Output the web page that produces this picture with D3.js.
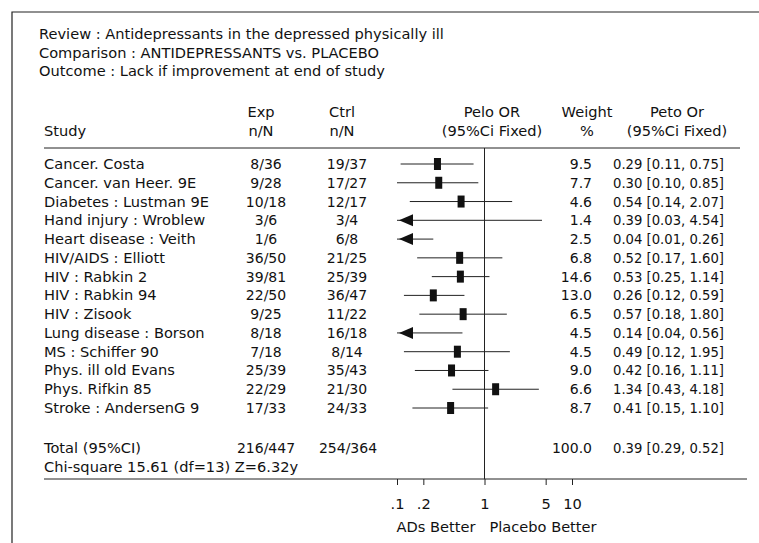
<!DOCTYPE html>
<meta charset="utf-8">
<style>
body{margin:0;background:#fff;}
svg text{font-family:"DejaVu Sans",sans-serif;font-size:14.6px;fill:#111;}
svg text.num{font-size:14px;}
svg text.ci{font-size:13.2px;}
</style>
<svg id="chart" width="759" height="543"></svg>
<script src="https://d3js.org/d3.v7.min.js"></script>
<script>
// header text of the review
const HEADER = [
  'Review : Antidepressants in the depressed physically ill',
  'Comparison : ANTIDEPRESSANTS vs. PLACEBO',
  'Outcome : Lack if improvement at end of study'
]

// one entry per trial
const STUDIES = ['Cancer. Costa', 'Cancer. van Heer. 9E', 'Diabetes : Lustman 9E',
  'Hand injury : Wroblew', 'Heart disease : Veith', 'HIV/AIDS : Elliott',
  'HIV : Rabkin 2', 'HIV : Rabkin 94', 'HIV : Zisook', 'Lung disease : Borson',
  'MS : Schiffer 90', 'Phys. ill old Evans', 'Phys. Rifkin 85', 'Stroke : AndersenG 9']
const EXP = ['8/36', '9/28', '10/18', '3/6', '1/6', '36/50', '39/81', '22/50',
  '9/25', '8/18', '7/18', '25/39', '22/29', '17/33']
const CTRL = ['19/37', '17/27', '12/17', '3/4', '6/8', '21/25', '25/39', '36/47',
  '11/22', '16/18', '8/14', '35/43', '21/30', '24/33']
const WEIGHT = [9.5, 7.7, 4.6, 1.4, 2.5, 6.8, 14.6, 13.0, 6.5, 4.5, 4.5, 9.0, 6.6, 8.7]
const OR = [0.29, 0.30, 0.54, 0.39, 0.04, 0.52, 0.53, 0.26, 0.57, 0.14, 0.49, 0.42, 1.34, 0.41]
const LO = [0.11, 0.10, 0.14, 0.03, 0.01, 0.17, 0.25, 0.12, 0.18, 0.04, 0.12, 0.16, 0.43, 0.15]
const HI = [0.75, 0.85, 2.07, 4.54, 0.26, 1.60, 1.14, 0.59, 1.80, 0.56, 1.95, 1.11, 4.18, 1.10]

// pooled result
const TOTAL = {exp: '216/447', ctrl: '254/364', weight: 100.0, or: 0.39, lo: 0.29, hi: 0.52}
const CHI = 'Chi-square 15.61 (df=13) Z=6.32y'

const TICKS = [0.1, 0.2, 1, 5, 10]
const TICK_LABELS = ['.1', '.2', '1', '5', '10']

const svg = d3.select('#chart')
const f2 = d3.format('.2f')
const f1 = d3.format('.1f')
const ciText = (o, l, h) => `${f2(o)} [${f2(l)}, ${f2(h)}]`

// frame (only top and left edges show)
svg.append('path').attr('d', 'M12,543V12H759')
  .attr('fill', 'none').attr('stroke', '#222').attr('stroke-width', 1.2)

svg.selectAll('text.head').data(HEADER).enter().append('text')
  .attr('class', 'head')
  .attr('x', 39).attr('y', (d, i) => 39 + i * 18.5)
  .text(d => d)

// column headings
const cols = [
  {x: 44, a: 'start', t: ['', 'Study']},
  {x: 261, a: 'middle', t: ['Exp', 'n/N']},
  {x: 342, a: 'middle', t: ['Ctrl', 'n/N']},
  {x: 492, a: 'middle', t: ['Pelo OR', '(95%Ci Fixed)']},
  {x: 587, a: 'middle', t: ['Weight', '%']},
  {x: 677, a: 'middle', t: ['Peto Or', '(95%Ci Fixed)']}
]
cols.forEach(c => {
  c.t.forEach((t, i) => {
    svg.append('text').attr('x', c.x).attr('y', 117 + i * 19)
      .attr('text-anchor', c.a).text(t)
  })
})

svg.append('line').attr('x1', 44).attr('x2', 740).attr('y1', 148).attr('y2', 148)
  .attr('stroke', '#222')

const x = d3.scaleLog().domain([0.1, 10]).range([397, 572])
const rowY = i => 164 + i * 18.77
const totalY = 448

const rows = svg.selectAll('g.row').data(STUDIES).enter().append('g').attr('class', 'row')
rows.append('text').attr('x', 44).attr('y', (d, i) => rowY(i) + 5).text(d => d)
rows.append('text').attr('class', 'num').attr('x', 266).attr('y', (d, i) => rowY(i) + 5)
  .attr('text-anchor', 'middle').text((d, i) => EXP[i])
rows.append('text').attr('class', 'num').attr('x', 347).attr('y', (d, i) => rowY(i) + 5)
  .attr('text-anchor', 'middle').text((d, i) => CTRL[i])
rows.append('text').attr('class', 'num').attr('x', 592).attr('y', (d, i) => rowY(i) + 5)
  .attr('text-anchor', 'end').text((d, i) => f1(WEIGHT[i]))
rows.append('text').attr('class', 'ci').attr('x', 613).attr('y', (d, i) => rowY(i) + 5)
  .text((d, i) => ciText(OR[i], LO[i], HI[i]))

// confidence intervals, clipped to the axis range with an arrow
const lo = x.domain()[0]
rows.append('line')
  .attr('x1', (d, i) => x(Math.max(LO[i], lo))).attr('x2', (d, i) => x(HI[i]))
  .attr('y1', (d, i) => rowY(i)).attr('y2', (d, i) => rowY(i))
  .attr('stroke', '#222')
rows.filter((d, i) => LO[i] < lo).append('path')
  .attr('d', d => {
    const x0 = x(lo) + 2, y0 = rowY(STUDIES.indexOf(d))
    return `M${x0},${y0}L${x0 + 14},${y0 - 6}L${x0 + 14},${y0 + 6}Z`
  })
  .attr('fill', '#111')
rows.filter((d, i) => LO[i] >= lo).append('rect')
  .attr('x', d => x(OR[STUDIES.indexOf(d)]) - 3.5)
  .attr('y', d => rowY(STUDIES.indexOf(d)) - 6)
  .attr('width', 7).attr('height', 12)
  .attr('fill', '#111')

// total rows
svg.append('text').attr('x', 44).attr('y', totalY + 5).text('Total (95%CI)')
svg.append('text').attr('class', 'num').attr('x', 266).attr('y', totalY + 5)
  .attr('text-anchor', 'middle').text(TOTAL.exp)
svg.append('text').attr('class', 'num').attr('x', 348).attr('y', totalY + 5)
  .attr('text-anchor', 'middle').text(TOTAL.ctrl)
svg.append('text').attr('class', 'num').attr('x', 592).attr('y', totalY + 5)
  .attr('text-anchor', 'end').text(f1(TOTAL.weight))
svg.append('text').attr('class', 'ci').attr('x', 613).attr('y', totalY + 5)
  .text(ciText(TOTAL.or, TOTAL.lo, TOTAL.hi))
svg.append('text').attr('x', 44).attr('y', 472).text(CHI)

// null line and axis
svg.append('line').attr('x1', x(1)).attr('x2', x(1)).attr('y1', 148).attr('y2', 479)
  .attr('stroke', '#222')
svg.append('line').attr('x1', 44).attr('x2', 747).attr('y1', 479).attr('y2', 479)
  .attr('stroke', '#222')
const axis = svg.append('g').attr('transform', 'translate(0,479)')
  .call(d3.axisBottom(x).tickValues(TICKS).tickFormat((d, i) => TICK_LABELS[i]).tickSize(6).tickPadding(14))
axis.select('.domain').remove()
axis.selectAll('text').attr('font-family', null).attr('font-size', null).attr('fill', null)
axis.selectAll('line').attr('stroke', '#222')

svg.append('text').attr('x', x(1) - 9).attr('y', 532).attr('text-anchor', 'end').text('ADs Better')
svg.append('text').attr('x', x(1) + 5).attr('y', 532).text('Placebo Better')
</script>
